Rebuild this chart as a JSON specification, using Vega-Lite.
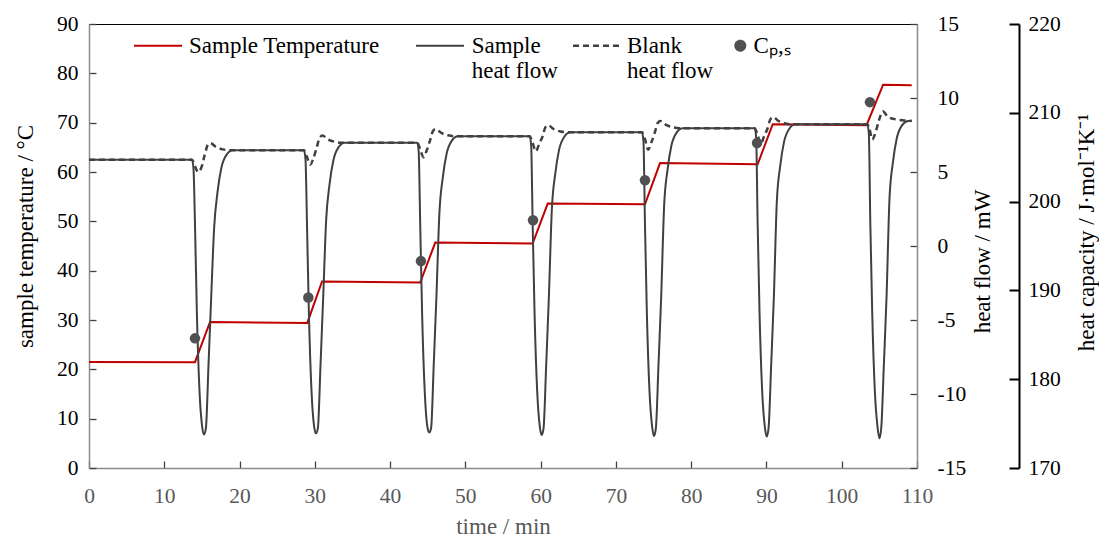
{
  "$schema": "https://vega.github.io/schema/vega-lite/v6.json",
  "width": 828,
  "height": 444,
  "autosize": {"type": "none"},
  "padding": {"left": 89, "top": 24, "right": 182, "bottom": 69},
  "background": "white",
  "config": {
    "font": "Liberation Serif",
    "view": {"stroke": "#000", "strokeWidth": 1},
    "axis": {"grid": false, "labelFont": "Liberation Serif", "titleFont": "Liberation Serif", "labelFontSize": 21.5, "titleFontSize": 23, "titleFontWeight": "normal", "labelColor": "#000", "titleColor": "#000", "domainColor": "#8c8c8c", "domainWidth": 1.5, "tickColor": "#404040", "tickWidth": 1.3, "labelOverlap": false, "labelFlush": false}
  },
  "datasets": {
    "temp": [
      {"t": 0, "T": 21.5}, {"t": 14.08, "T": 21.45}, {"t": 16.08, "T": 29.6}, {"t": 29.0, "T": 29.4},
      {"t": 30.96, "T": 37.8}, {"t": 44.0, "T": 37.6}, {"t": 46.0, "T": 45.7}, {"t": 58.94, "T": 45.5},
      {"t": 60.94, "T": 53.6}, {"t": 73.86, "T": 53.45}, {"t": 75.86, "T": 61.8}, {"t": 88.83, "T": 61.55},
      {"t": 90.83, "T": 69.7}, {"t": 103.3, "T": 69.5}, {"t": 105.5, "T": 77.7}, {"t": 109.3, "T": 77.6}
    ],
    "sample": [
      {"t": 0, "hf": 5.83},
      {"t": 13.68, "hf": 5.83}, {"t": 13.88, "hf": 5.23}, {"t": 14.08, "hf": 1.5}, {"t": 14.33, "hf": -4.5}, {"t": 14.68, "hf": -9.8}, {"t": 15.03, "hf": -12.2}, {"t": 15.28, "hf": -12.73}, {"t": 15.53, "hf": -12.3}, {"t": 15.88, "hf": -8.0}, {"t": 16.23, "hf": -3.5}, {"t": 16.63, "hf": 1.27}, {"t": 17.08, "hf": 3.67}, {"t": 17.58, "hf": 5.27}, {"t": 18.28, "hf": 6.17}, {"t": 19.08, "hf": 6.47},
      {"t": 28.56, "hf": 6.47}, {"t": 28.76, "hf": 5.87}, {"t": 28.96, "hf": 1.5}, {"t": 29.21, "hf": -4.5}, {"t": 29.56, "hf": -9.8}, {"t": 29.91, "hf": -12.2}, {"t": 30.16, "hf": -12.66}, {"t": 30.41, "hf": -12.3}, {"t": 30.76, "hf": -8.0}, {"t": 31.11, "hf": -3.5}, {"t": 31.51, "hf": 1.78}, {"t": 31.96, "hf": 4.18}, {"t": 32.46, "hf": 5.78}, {"t": 33.16, "hf": 6.68}, {"t": 33.96, "hf": 6.98},
      {"t": 43.6, "hf": 6.98}, {"t": 43.8, "hf": 6.38}, {"t": 44.0, "hf": 1.5}, {"t": 44.25, "hf": -4.5}, {"t": 44.6, "hf": -9.8}, {"t": 44.95, "hf": -12.2}, {"t": 45.2, "hf": -12.6}, {"t": 45.45, "hf": -12.3}, {"t": 45.8, "hf": -8.0}, {"t": 46.15, "hf": -3.5}, {"t": 46.55, "hf": 2.22}, {"t": 47.0, "hf": 4.62}, {"t": 47.5, "hf": 6.22}, {"t": 48.2, "hf": 7.12}, {"t": 49.0, "hf": 7.42},
      {"t": 58.54, "hf": 7.42}, {"t": 58.74, "hf": 6.82}, {"t": 58.94, "hf": 1.5}, {"t": 59.19, "hf": -4.5}, {"t": 59.54, "hf": -9.8}, {"t": 59.89, "hf": -12.2}, {"t": 60.14, "hf": -12.77}, {"t": 60.39, "hf": -12.3}, {"t": 60.74, "hf": -8.0}, {"t": 61.09, "hf": -3.5}, {"t": 61.49, "hf": 2.48}, {"t": 61.94, "hf": 4.88}, {"t": 62.44, "hf": 6.48}, {"t": 63.14, "hf": 7.38}, {"t": 63.94, "hf": 7.68},
      {"t": 73.46, "hf": 7.68}, {"t": 73.66, "hf": 7.08}, {"t": 73.86, "hf": 1.5}, {"t": 74.11, "hf": -4.5}, {"t": 74.46, "hf": -9.8}, {"t": 74.81, "hf": -12.2}, {"t": 75.06, "hf": -12.84}, {"t": 75.31, "hf": -12.3}, {"t": 75.66, "hf": -8.0}, {"t": 76.01, "hf": -3.5}, {"t": 76.41, "hf": 2.76}, {"t": 76.86, "hf": 5.16}, {"t": 77.36, "hf": 6.76}, {"t": 78.06, "hf": 7.66}, {"t": 78.86, "hf": 7.96},
      {"t": 88.43, "hf": 7.96}, {"t": 88.63, "hf": 7.36}, {"t": 88.83, "hf": 1.5}, {"t": 89.08, "hf": -4.5}, {"t": 89.43, "hf": -9.8}, {"t": 89.78, "hf": -12.2}, {"t": 90.03, "hf": -12.88}, {"t": 90.28, "hf": -12.3}, {"t": 90.63, "hf": -8.0}, {"t": 90.98, "hf": -3.5}, {"t": 91.38, "hf": 3.02}, {"t": 91.83, "hf": 5.42}, {"t": 92.33, "hf": 7.02}, {"t": 93.03, "hf": 7.92}, {"t": 93.83, "hf": 8.22},
      {"t": 103.4, "hf": 8.22}, {"t": 103.6, "hf": 7.62}, {"t": 103.8, "hf": 1.5}, {"t": 104.05, "hf": -4.5}, {"t": 104.4, "hf": -9.8}, {"t": 104.75, "hf": -12.2}, {"t": 105.0, "hf": -12.99}, {"t": 105.25, "hf": -12.3}, {"t": 105.6, "hf": -8.0}, {"t": 105.95, "hf": -3.5}, {"t": 106.35, "hf": 3.25}, {"t": 106.8, "hf": 5.65}, {"t": 107.3, "hf": 7.25}, {"t": 108.0, "hf": 8.15}, {"t": 108.8, "hf": 8.45}, {"t": 109.3, "hf": 8.47}
    ],
    "blank": [
      {"t": 0, "hf": 5.83},
      {"t": 13.68, "hf": 5.83}, {"t": 14.08, "hf": 5.38}, {"t": 14.5, "hf": 5.0}, {"t": 14.93, "hf": 5.3}, {"t": 15.38, "hf": 6.17}, {"t": 15.78, "hf": 6.82}, {"t": 16.13, "hf": 6.95}, {"t": 16.88, "hf": 6.69}, {"t": 17.78, "hf": 6.53}, {"t": 18.68, "hf": 6.47},
      {"t": 28.56, "hf": 6.47}, {"t": 28.96, "hf": 6.02}, {"t": 29.38, "hf": 5.5}, {"t": 29.81, "hf": 5.92}, {"t": 30.26, "hf": 6.68}, {"t": 30.66, "hf": 7.33}, {"t": 31.01, "hf": 7.46}, {"t": 31.76, "hf": 7.2}, {"t": 32.66, "hf": 7.04}, {"t": 33.56, "hf": 6.98},
      {"t": 43.6, "hf": 6.98}, {"t": 44.0, "hf": 6.53}, {"t": 44.42, "hf": 6.0}, {"t": 44.85, "hf": 6.43}, {"t": 45.3, "hf": 7.12}, {"t": 45.7, "hf": 7.77}, {"t": 46.05, "hf": 7.9}, {"t": 46.8, "hf": 7.64}, {"t": 47.7, "hf": 7.48}, {"t": 48.6, "hf": 7.42},
      {"t": 58.54, "hf": 7.42}, {"t": 58.94, "hf": 6.97}, {"t": 59.36, "hf": 6.4}, {"t": 59.79, "hf": 6.87}, {"t": 60.24, "hf": 7.38}, {"t": 60.64, "hf": 8.03}, {"t": 60.99, "hf": 8.16}, {"t": 61.74, "hf": 7.9}, {"t": 62.64, "hf": 7.74}, {"t": 63.54, "hf": 7.68},
      {"t": 73.46, "hf": 7.68}, {"t": 73.86, "hf": 7.23}, {"t": 74.28, "hf": 6.5}, {"t": 74.71, "hf": 7.0}, {"t": 75.16, "hf": 7.66}, {"t": 75.56, "hf": 8.31}, {"t": 75.91, "hf": 8.44}, {"t": 76.66, "hf": 8.18}, {"t": 77.56, "hf": 8.02}, {"t": 78.46, "hf": 7.96},
      {"t": 88.43, "hf": 7.96}, {"t": 88.83, "hf": 7.51}, {"t": 89.25, "hf": 6.9}, {"t": 89.68, "hf": 7.41}, {"t": 90.13, "hf": 7.92}, {"t": 90.53, "hf": 8.57}, {"t": 90.88, "hf": 8.7}, {"t": 91.63, "hf": 8.44}, {"t": 92.53, "hf": 8.28}, {"t": 93.43, "hf": 8.22},
      {"t": 103.4, "hf": 8.22}, {"t": 103.7, "hf": 7.9}, {"t": 104.05, "hf": 7.2}, {"t": 104.45, "hf": 7.6}, {"t": 104.95, "hf": 8.5}, {"t": 105.45, "hf": 9.1}, {"t": 106.1, "hf": 8.75}, {"t": 107.2, "hf": 8.55}, {"t": 108.3, "hf": 8.48}, {"t": 109.3, "hf": 8.45}
    ],
    "cp": [
      {"t": 14.08, "cp": 184.6}, {"t": 29.14, "cp": 189.2}, {"t": 44.1, "cp": 193.3}, {"t": 58.99, "cp": 197.9},
      {"t": 73.86, "cp": 202.4}, {"t": 88.75, "cp": 206.6}, {"t": 103.75, "cp": 211.2}
    ]
  },
  "encoding": {
    "x": {
      "field": "t", "type": "quantitative",
      "scale": {"domain": [0, 110], "nice": false, "zero": false},
      "axis": {"values": [0, 10, 20, 30, 40, 50, 60, 70, 80, 90, 100, 110], "title": "time / min", "tickSize": -7, "labelPadding": 24, "labelColor": "#595959", "titleColor": "#595959", "titleX": 414, "titleY": 65, "titleAlign": "center", "titleBaseline": "alphabetic"}
    }
  },
  "layer": [
    {
      "data": {"name": "temp"},
      "mark": {"type": "line", "strokeWidth": 2, "clip": true},
      "encoding": {
        "y": {
          "field": "T", "type": "quantitative",
          "scale": {"domain": [0, 90], "nice": false, "zero": false},
          "axis": {"orient": "left", "values": [0, 10, 20, 30, 40, 50, 60, 70, 80, 90], "title": "sample temperature / °C", "tickSize": -7, "labelPadding": 18, "titleAngle": 270, "titleX": -57, "titleY": 212, "titleAlign": "center", "titleBaseline": "alphabetic"}
        },
        "color": {
          "datum": "Sample Temperature",
          "scale": {"domain": ["Sample Temperature", "Sample heat flow", "Blank heat flow", "Cp"], "range": ["#c00000", "#404040", "#404040", "#505050"]},
          "legend": {
            "title": null, "orient": "none", "legendX": 45, "legendY": 1.7, "direction": "horizontal",
            "symbolType": "stroke", "symbolSize": 2304, "symbolStrokeWidth": 2,
            "labelFont": "Liberation Serif", "labelFontSize": 23, "labelColor": "#000",
            "labelBaseline": "alphabetic", "labelLineHeight": 21, "labelOffset": 6, "labelLimit": 0,
            "columnPadding": 10,
            "labelExpr": "datum.value == 'Sample heat flow' ? ['Sample', 'heat flow'] : datum.value == 'Blank heat flow' ? ['Blank', 'heat flow '] : datum.value == 'Cp' ? ['Cₚ,ₛ', ' '] : ['Sample Temperature    ', ' ']",
            "encode": {
              "labels": {"update": {
                "x": {"signal": "datum.value == 'Cp' ? 29.6 : datum.value == 'Sample heat flow' ? 81.7 : 55"},
                "y": {"value": 20},
                "dy": {"value": 7}
              }},
              "symbols": {"update": {
                "x": {"signal": "datum.value == 'Cp' ? 16.3 : datum.value == 'Sample heat flow' ? 50 : datum.value == 'Blank heat flow' ? 25 : 24"},
                "y": {"value": 20},
                "shape": {"signal": "datum.value == 'Cp' ? 'circle' : 'stroke'"},
                "size": {"signal": "datum.value == 'Cp' ? 100 : 2304"},
                "stroke": {"signal": "datum.value == 'Sample Temperature' ? '#c00000' : datum.value == 'Cp' ? 'transparent' : '#404040'"},
                "fill": {"signal": "datum.value == 'Cp' ? '#404040' : 'transparent'"},
                "strokeDash": {"signal": "datum.value == 'Blank heat flow' ? [6, 4] : [1, 0]"},
                "strokeWidth": {"signal": "datum.value == 'Blank heat flow' ? 2.5 : 2"},
                "opacity": {"value": 1}
              }}
            }
          }
        }
      }
    },
    {
      "layer": [
        {
          "data": {"name": "sample"},
          "mark": {"type": "line", "strokeWidth": 2, "interpolate": "monotone", "clip": true},
          "encoding": {
            "y": {
              "field": "hf", "type": "quantitative",
              "scale": {"domain": [-15, 15], "nice": false, "zero": false},
              "axis": {"orient": "right", "values": [-15, -10, -5, 0, 5, 10, 15], "labelExpr": "replace(datum.label, '−', '-')", "title": "heat flow / mW", "tickSize": -7, "labelPadding": 27, "labelAlign": "left", "titleAngle": 270, "titleX": 72, "titleY": 237, "titleAlign": "center", "titleBaseline": "alphabetic"}
            },
            "color": {"datum": "Sample heat flow"}
          }
        },
        {
          "data": {"name": "blank"},
          "mark": {"type": "line", "strokeWidth": 2.5, "interpolate": "monotone", "clip": true},
          "encoding": {
            "y": {"field": "hf", "type": "quantitative"},
            "color": {"datum": "Blank heat flow"},
            "strokeDash": {
              "datum": "Blank heat flow",
              "scale": {"domain": ["Sample Temperature", "Sample heat flow", "Blank heat flow", "Cp"], "range": [[1, 0], [1, 0], [6, 4], [1, 0]]},
              "legend": null
            }
          }
        }
      ]
    },
    {
      "data": {"name": "cp"},
      "mark": {"type": "point", "filled": true, "size": 110, "opacity": 1},
      "encoding": {
        "y": {
          "field": "cp", "type": "quantitative",
          "scale": {"domain": [170, 220], "nice": false, "zero": false},
          "axis": {"orient": "right", "offset": 102, "values": [170, 180, 190, 200, 210, 220], "title": "heat capacity / J·mol⁻¹K⁻¹", "tickSize": -10, "labelPadding": 19, "labelAlign": "left", "domainColor": "#000", "domainWidth": 2, "tickColor": "#000", "tickWidth": 2, "titleAngle": 270, "titleX": 74, "titleY": 208, "titleAlign": "center", "titleBaseline": "alphabetic"}
        },
        "color": {"datum": "Cp"}
      }
    }
  ],
  "resolve": {"scale": {"y": "independent"}}
}
